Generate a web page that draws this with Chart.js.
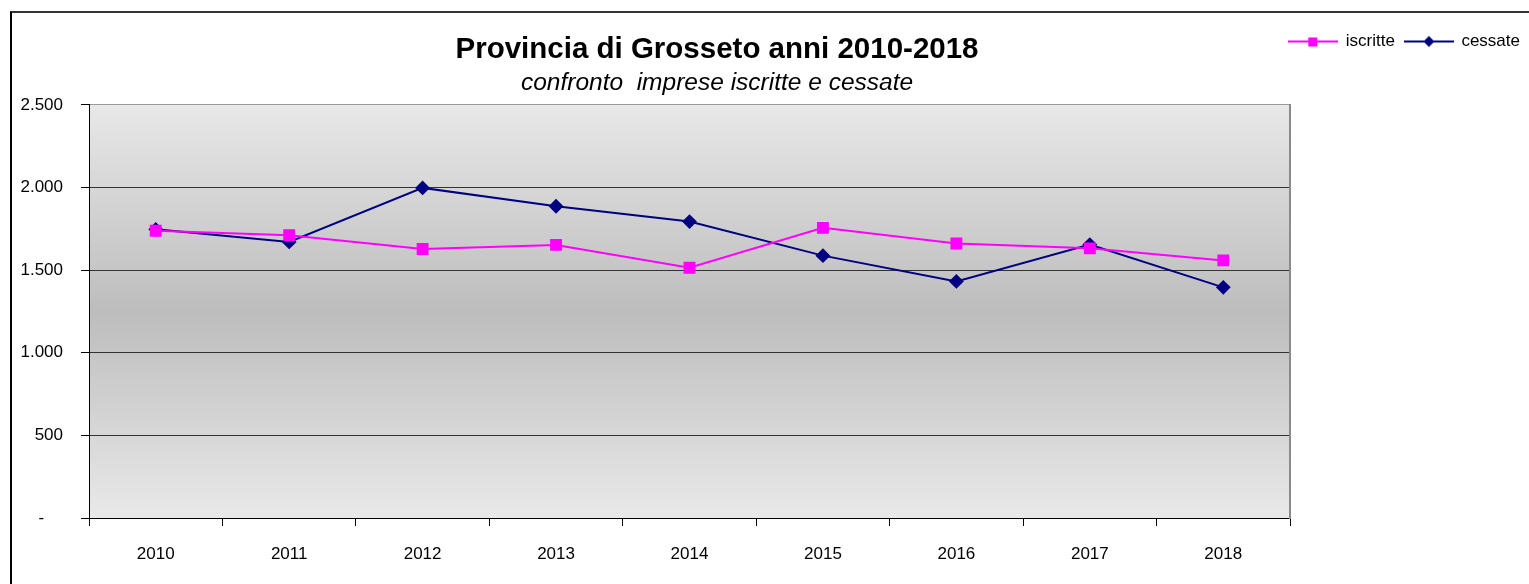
<!DOCTYPE html>
<html><head><meta charset="utf-8">
<script src="https://cdn.jsdelivr.net/npm/chart.js@4.4.1/dist/chart.umd.min.js"></script>
<style>
html,body{margin:0;padding:0;background:#fff;}
#wrap{position:relative;width:1529px;height:584px;overflow:hidden;}
#frame{position:absolute;left:10px;top:11px;width:1540px;height:600px;border-left:2px solid #000;border-top:2px solid #333;}
canvas{position:absolute;left:0;top:0;}
</style></head><body>
<div id="wrap"><div id="frame"></div><canvas id="c" width="1529" height="584"></canvas></div>
<script>
const categories = ['2010','2011','2012','2013','2014','2015','2016','2017','2018'];
const iscritte = [1739,1711,1628,1653,1515,1756,1661,1632,1559];
const cessate  = [1747,1671,1998,1887,1794,1588,1432,1655,1396];
const yTickLabels = ['-','500','1.000','1.500','2.000','2.500'];
const seriesNames = ['iscritte','cessate'];
const titleText = 'Provincia di Grosseto anni 2010-2018';
const subtitleText = 'confronto  imprese iscritte e cessate';

const SANS = '"Liberation Sans", Arial, sans-serif';

function legendIcon(color, shape){
  const c = document.createElement('canvas');
  c.width = 50; c.height = 14;
  const x = c.getContext('2d');
  x.strokeStyle = color; x.lineWidth = 2;
  x.beginPath(); x.moveTo(0,7); x.lineTo(50,7); x.stroke();
  x.fillStyle = color;
  if (shape === 'rect') { x.fillRect(20,3,9,9); }
  else { x.beginPath(); x.moveTo(25,1.5); x.lineTo(30.5,7); x.lineTo(25,12.5); x.lineTo(19.5,7); x.closePath(); x.fill(); }
  return c;
}
const icons = [legendIcon('#ff00ff','rect'), legendIcon('#000080','diamond')];

const plotBg = {
  id:'plotBg',
  beforeDraw(chart){
    const {ctx, chartArea:a} = chart;
    const g = ctx.createLinearGradient(0,a.top,0,a.bottom);
    g.addColorStop(0,'#e8e8e8'); g.addColorStop(0.5,'#bdbdbd'); g.addColorStop(1,'#e9e9e9');
    ctx.save(); ctx.fillStyle = g; ctx.fillRect(a.left,a.top,a.right-a.left,a.bottom-a.top); ctx.restore();
  }
};
const legendMover = {
  id:'legendMover',
  afterLayout(chart){
    const lg = chart.legend; if (!lg) return;
    const w = lg.width, h = lg.height;
    lg.right = 1530; lg.left = lg.right - w;
    lg.top = 23; lg.bottom = lg.top + h;
  }
};

new Chart(document.getElementById('c'), {
  type:'line',
  data:{
    labels: categories,
    datasets:[
      {label: seriesNames[0], data: iscritte, borderColor:'#ff00ff', backgroundColor:'#ff00ff', borderWidth:2,
       pointStyle:'rect', pointRadius:7, pointHoverRadius:7, tension:0, fill:false},
      {label: seriesNames[1], data: cessate, borderColor:'#000080', backgroundColor:'#000080', borderWidth:2,
       pointStyle:'rectRot', pointRadius:6, pointHoverRadius:6, tension:0, fill:false}
    ]
  },
  options:{
    responsive:false, animation:false, devicePixelRatio:1,
    layout:{padding:{left:11,right:106,top:0,bottom:0}},
    plugins:{
      title:{display:true, text:titleText, color:'#000', font:{family:SANS, size:29.5, weight:'bold', lineHeight:1.0}, padding:{top:5,bottom:0}},
      subtitle:{display:true, text:subtitleText, color:'#000', font:{family:SANS, size:24.5, style:'italic', lineHeight:1.1}, padding:{top:5,bottom:8.5}},
      legend:{display:true, position:'top', align:'end', weight:3000, maxHeight:30,
        labels:{usePointStyle:true, pointStyleWidth:48, color:'#000', font:{family:SANS, size:17}, padding:10,
          generateLabels(chart){
            return Chart.defaults.plugins.legend.labels.generateLabels(chart).map((l,i)=>Object.assign(l,{pointStyle:icons[i], lineWidth:0}));
          }}},
      tooltip:{enabled:false}
    },
    scales:{
      x:{type:'category', offset:true,
        grid:{offset:true, drawOnChartArea:false, drawTicks:true, tickLength:8, color:'#000', tickColor:'#000'},
        border:{display:true, color:'#000', width:1},
        ticks:{color:'#000', font:{family:SANS, size:17}, padding:18, maxRotation:0, autoSkip:false},
        afterFit(s){ s.height = 66; }
      },
      y:{min:0, max:2500,
        ticks:{stepSize:500, color:'#000', font:{family:SANS, size:17}, padding:18,
          callback:(v,i)=> i===0 ? yTickLabels[0]+'    ' : yTickLabels[i]},
        grid:{color:(ctx)=> ctx.index===5 ? '#9a9a9a' : '#333', lineWidth:1, tickLength:8, tickColor:'#000'},
        border:{display:true, color:'#000', width:1},
        afterFit(s){ s.width = 78; }
      },
      y2:{position:'right', display:true, grid:{display:false}, ticks:{display:false},
        border:{display:true, color:'#8a8a8a', width:2},
        afterFit(s){ s.width = 133; }
      }
    }
  },
  plugins:[plotBg, legendMover]
});
</script>
</body></html>
